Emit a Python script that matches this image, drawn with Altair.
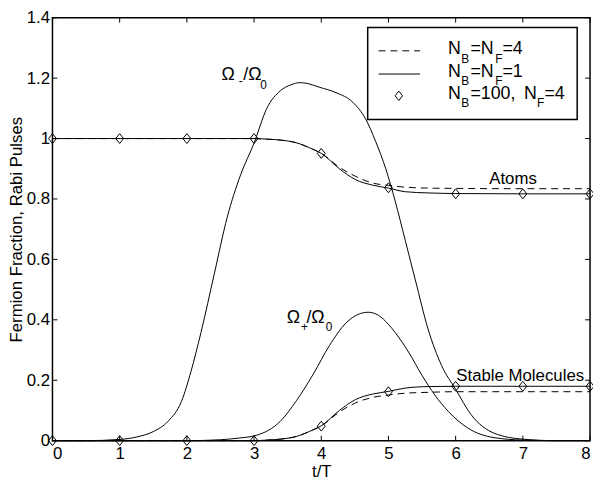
import altair as alt
import pandas as pd

# ---------------- data ----------------
X_TICKS = [0, 1, 2, 3, 4, 5, 6, 7, 8]
Y_TICKS = [0, 0.2, 0.4, 0.6, 0.8, 1.0, 1.2, 1.4]

# Omega_- / Omega_0 pulse
T_MINUS = [0, 0.5, 1.0, 1.25, 1.5, 1.72, 1.92, 2.06, 2.21, 2.41, 2.6, 2.8, 3.0, 3.19, 3.39,
           3.55, 3.68, 3.8, 3.97, 4.22, 4.47, 4.66, 4.81, 4.96, 5.1, 5.25, 5.4, 5.59, 5.79,
           6.0, 6.23, 6.57, 7.0, 7.5, 8.0]
V_MINUS = [0, 0, 0.004, 0.012, 0.03, 0.064, 0.13, 0.228, 0.358, 0.554, 0.739, 0.88, 0.985, 1.1, 1.158,
           1.178, 1.185, 1.182, 1.17, 1.152, 1.12, 1.065, 0.99, 0.9, 0.793, 0.663, 0.532, 0.369, 0.249,
           0.17, 0.086, 0.025, 0.005, 0.0, 0.0]

# Omega_+ / Omega_0 pulse
T_PLUS = [0, 2.0, 2.5, 2.75, 3.04, 3.39, 3.63, 3.88, 4.12, 4.37, 4.55, 4.7, 4.85, 5.0, 5.1,
          5.3, 5.5, 5.69, 5.89, 6.18, 6.57, 7.0, 7.5, 8.0]
V_PLUS = [0, 0, 0.003, 0.008, 0.018, 0.064, 0.132, 0.22, 0.314, 0.39, 0.418, 0.425, 0.415, 0.385, 0.358,
          0.293, 0.216, 0.151, 0.097, 0.042, 0.01, 0.002, 0.0, 0.0]

# Atoms fraction
T_ATOM = [0, 3.0, 3.2, 3.39, 3.63, 3.87, 4.0, 4.27, 4.51, 4.76, 5.0, 5.25, 5.59, 6.0, 7.0, 8.0]
V_ATOM_1 = [1.0, 1.0, 0.998, 0.995, 0.986, 0.965, 0.951, 0.9, 0.864, 0.846, 0.836, 0.824, 0.82, 0.818, 0.817, 0.817]
V_ATOM_4 = [1.0, 1.0, 0.998, 0.995, 0.986, 0.965, 0.951, 0.905, 0.875, 0.853, 0.845, 0.839, 0.836, 0.835, 0.834, 0.834]

# Stable molecules fraction
T_MOL = [0, 3.0, 3.2, 3.39, 3.63, 3.87, 4.0, 4.27, 4.51, 4.76, 5.0, 5.25, 5.59, 6.0, 7.0, 8.0]
V_MOL_1 = [0, 0, 0.002, 0.005, 0.014, 0.035, 0.049, 0.1, 0.136, 0.154, 0.163, 0.174, 0.179, 0.18, 0.18, 0.18]
V_MOL_4 = [0, 0, 0.002, 0.005, 0.014, 0.035, 0.049, 0.095, 0.125, 0.143, 0.151, 0.157, 0.16, 0.162, 0.162, 0.162]

# N_B=100, N_F=4 diamonds
T_DIAM = [0, 1, 2, 3, 4, 5, 6, 7, 8]
V_DIAM_ATOM = [1.0, 1.0, 1.0, 1.0, 0.951, 0.837, 0.817, 0.817, 0.817]
V_DIAM_MOL = [0, 0, 0, 0, 0.048, 0.162, 0.18, 0.18, 0.18]

# ---------------- layout ----------------
W, H = 544, 428
FONT = "Liberation Sans"
FS = 17
DIAMOND = "M-0.8,0L0,-1L0.8,0L0,1Z"

XS = alt.Scale(domain=[0, 8], nice=False, zero=False)
YS = alt.Scale(domain=[0, 1.4], nice=False, zero=False)
XAX = alt.Axis(values=X_TICKS, title="t/T", ticks=False, domain=False, grid=False,
               labelPadding=5, format="~g",
               titleX=W / 2, titleY=36.5, titleAlign="center", titleBaseline="alphabetic")
YAX = alt.Axis(values=Y_TICKS, title="Fermion Fraction, Rabi Pulses", ticks=False, domain=False,
               grid=False, labelPadding=3, format="~g",
               titleX=-31.5, titleY=H / 2, titleAngle=270, titleAlign="center",
               titleBaseline="alphabetic")


def xe():
    return alt.X("t:Q", scale=XS, axis=XAX)


def ye():
    return alt.Y("v:Q", scale=YS, axis=YAX)


def line(ts, vs, dashed=False):
    df = pd.DataFrame({"t": ts, "v": vs})
    kw = dict(color="black", strokeWidth=1, interpolate="monotone")
    if dashed:
        kw["strokeDash"] = [7, 5]
    return alt.Chart(df).mark_line(**kw).encode(x=xe(), y=ye())


def diamonds(ts, vs):
    df = pd.DataFrame({"t": ts, "v": vs})
    return alt.Chart(df).mark_point(shape=DIAMOND, size=100, filled=False, color="black",
                                    strokeWidth=1, opacity=1).encode(x=xe(), y=ye())


layers = []
layers.append(line(T_MINUS, V_MINUS))
layers.append(line(T_PLUS, V_PLUS))
layers.append(line(T_ATOM, V_ATOM_4, dashed=True))
layers.append(line(T_ATOM, V_ATOM_1))
layers.append(line(T_MOL, V_MOL_4, dashed=True))
layers.append(line(T_MOL, V_MOL_1))
layers.append(diamonds(T_DIAM, V_DIAM_ATOM))
layers.append(diamonds(T_DIAM, V_DIAM_MOL))

# inward ticks on all four sides
xt = pd.DataFrame({"t": X_TICKS})
yt = pd.DataFrame({"v": Y_TICKS})
TL = 5
layers.append(alt.Chart(xt).mark_rule(color="black", strokeWidth=1).encode(
    x=xe(), y=alt.value(H), y2=alt.value(H - TL)))
layers.append(alt.Chart(xt).mark_rule(color="black", strokeWidth=1).encode(
    x=xe(), y=alt.value(0), y2=alt.value(TL)))
layers.append(alt.Chart(yt).mark_rule(color="black", strokeWidth=1).encode(
    y=ye(), x=alt.value(0), x2=alt.value(TL)))
layers.append(alt.Chart(yt).mark_rule(color="black", strokeWidth=1).encode(
    y=ye(), x=alt.value(W - TL), x2=alt.value(W)))

one = pd.DataFrame({"k": [0]})


def txt_data(text, t, v, dx=0, dy=0, size=FS):
    return alt.Chart(one).mark_text(text=text, align="left", baseline="alphabetic", dx=dx, dy=dy,
                                    font=FONT, fontSize=size, color="black").encode(
        x=alt.datum(t, scale=XS), y=alt.datum(v, scale=YS))


# curve annotations
layers += [
    txt_data("Ω", 2.515, 1.193, 0, 0, 18),
    txt_data("-", 2.515, 1.193, 17.5, 5, 12),
    txt_data("/Ω", 2.515, 1.193, 22, 0, 18),
    txt_data("0", 2.515, 1.193, 39.3, 8.4, 12),
    txt_data("Ω", 3.485, 0.39, 0, 0, 18),
    txt_data("+", 3.485, 0.39, 14.5, 8.2, 12),
    txt_data("/Ω", 3.485, 0.39, 20, 0, 18),
    txt_data("0", 3.485, 0.39, 39.5, 8.4, 12),
    txt_data("Atoms", 6.5, 0.848, 0, 0, FS),
    txt_data("Stable Molecules", 6.01, 0.197, 0, 0, FS),
]

# legend box
layers.append(alt.Chart(one).mark_rect(fill="white", stroke="black", strokeWidth=1.5).encode(
    x=alt.value(319), x2=alt.value(531), y=alt.value(10), y2=alt.value(103)))
layers.append(alt.Chart(one).mark_rule(color="black", strokeWidth=1, strokeDash=[7, 5]).encode(
    x=alt.value(330), x2=alt.value(372), y=alt.value(33.5)))
layers.append(alt.Chart(one).mark_rule(color="black", strokeWidth=1).encode(
    x=alt.value(330), x2=alt.value(372), y=alt.value(57)))
layers.append(alt.Chart(one).mark_point(shape=DIAMOND, size=90, filled=False, color="black",
                                        strokeWidth=1, opacity=1).encode(
    x=alt.value(350.5), y=alt.value(79)))


def ltxt(text, x, y, size):
    return alt.Chart(one).mark_text(text=text, align="left", baseline="alphabetic", font=FONT,
                                    fontSize=size, color="black").encode(
        x=alt.value(x), y=alt.value(y))


LEG_ROWS = [
    [("N", 0, 0, 18), ("B", 13.4, 8.5, 12), ("=N", 22.7, 0, 18), ("F", 47.7, 8.5, 12), ("=4", 55, 0, 18)],
    [("N", 0, 0, 18), ("B", 13.4, 8.5, 12), ("=N", 22.7, 0, 18), ("F", 47.7, 8.5, 12), ("=1", 55, 0, 18)],
    [("N", 0, 0, 18), ("B", 13.4, 8.5, 12), ("=100,", 22.7, 0, 18), ("N", 77, 0, 18),
     ("F", 90, 8.5, 12), ("=4", 97.5, 0, 18)],
]
ROW_BASE = [37, 60, 82]
for row, base in zip(LEG_ROWS, ROW_BASE):
    for text, dx, dy, size in row:
        layers.append(ltxt(text, 400.3 + dx, base + dy, size))

chart = alt.layer(*layers).properties(
    width=W, height=H,
    autosize=alt.AutoSizeParams(type="none"),
    padding={"left": 45, "top": 7, "right": 3, "bottom": 38},
    background="white",
).configure_view(stroke="black", strokeWidth=1.5).configure_axis(
    labelFont=FONT, labelFontSize=FS, labelColor="black",
    titleFont=FONT, titleFontSize=FS, titleFontWeight="normal", titleColor="black",
)

chart.save("out.html", embed_options={"renderer": "svg", "actions": False})
